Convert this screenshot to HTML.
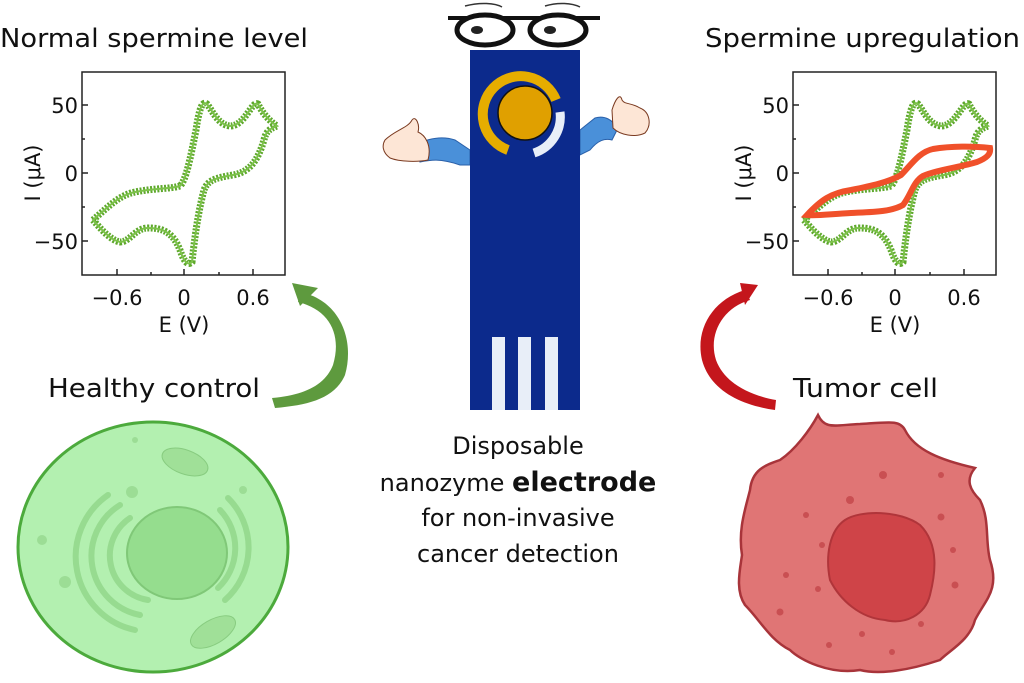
<!DOCTYPE html>
<html><head><meta charset="utf-8"><style>
html,body{margin:0;padding:0;background:#fff}
svg{display:block}
text{font-family:"DejaVu Sans","Liberation Sans",sans-serif;fill:#111}
</style></head><body>
<svg width="1024" height="683" viewBox="0 0 1024 683" xmlns="http://www.w3.org/2000/svg">
<defs>
<path id="cv" d="M93,220 C110,205 120,195 135,192 C155,188 170,189 180,186 C186,180 190,160 196,130 C199,110 202,100 207,104 C212,110 218,125 230,126 C245,126 252,100 258,104 C262,112 268,120 277,126 C272,128 266,130 264,140 C258,160 250,172 233,175 C215,178 208,180 204,190 C200,205 196,225 192,262 C188,266 184,262 180,250 C172,230 160,228 148,228 C135,228 130,242 120,242 C110,240 100,228 93,220 Z"/>
<g id="axes">
  <rect x="82" y="72" width="203" height="203" fill="none" stroke="#222" stroke-width="1.5"/>
  <g stroke="#222" stroke-width="1.5">
    <line x1="82" y1="105" x2="88" y2="105"/><line x1="82" y1="139" x2="85" y2="139"/>
    <line x1="82" y1="173" x2="88" y2="173"/><line x1="82" y1="207" x2="85" y2="207"/>
    <line x1="82" y1="241" x2="88" y2="241"/>
    <line x1="117" y1="275" x2="117" y2="269"/><line x1="151" y1="275" x2="151" y2="272"/>
    <line x1="184" y1="275" x2="184" y2="269"/><line x1="219" y1="275" x2="219" y2="272"/>
    <line x1="253" y1="275" x2="253" y2="269"/>
  </g>
  <g font-size="21" text-anchor="end">
    <text x="78" y="113">50</text><text x="78" y="181">0</text><text x="78" y="249">−50</text>
  </g>
  <g font-size="21" text-anchor="middle">
    <text x="117" y="305">−0.6</text><text x="184" y="305">0</text><text x="253" y="305">0.6</text>
    <text x="184" y="332">E (V)</text>
  </g>
  <text font-size="21" text-anchor="middle" transform="translate(40,173) rotate(-90)">I (μA)</text>
  <use href="#cv" fill="none" stroke="#5ea82c" stroke-width="7" stroke-dasharray="2 1.5"/>
  <use href="#cv" fill="none" stroke="#7cc24a" stroke-width="2"/>
</g>
</defs>

<text x="0" y="47" font-size="26" textLength="308" lengthAdjust="spacingAndGlyphs">Normal spermine level</text>
<text x="705" y="47" font-size="26" textLength="315" lengthAdjust="spacingAndGlyphs">Spermine upregulation</text>

<use href="#axes"/>
<g transform="translate(711,0)">
  <use href="#axes"/>
  <path d="M96,215 C110,200 120,193 140,190 C160,186 178,182 190,175 C200,165 208,152 222,149 C240,146 262,146 279,148 C280,154 276,158 266,162 C250,167 225,170 212,176 C202,182 200,195 192,205 C180,212 160,212 140,213 C120,214 105,216 96,215 Z" fill="none" stroke="#f0502a" stroke-width="6"/>
</g>

<path d="M300,292 C340,300 355,340 345,375 C335,398 310,405 275,408 L272,398 C305,395 325,385 333,365 C342,335 330,310 298,302 Z" fill="#5e9a3e"/>
<path d="M292,283 L318,288 L300,306 Z" fill="#5e9a3e"/>
<path d="M745,290 C712,300 695,330 702,360 C710,390 740,405 775,410 L776,400 C748,395 724,382 716,360 C708,335 722,308 750,300 Z" fill="#c4161c"/>
<path d="M740,283 L758,285 L745,305 Z" fill="#c4161c"/>

<text x="48" y="397" font-size="26" textLength="212" lengthAdjust="spacingAndGlyphs">Healthy control</text>
<text x="793" y="397" font-size="26" textLength="145" lengthAdjust="spacingAndGlyphs">Tumor cell</text>

<g>
  <path d="M470,150 L455,140 C440,135 425,140 415,145 L420,162 C430,160 440,158 460,165 L470,165 Z" fill="#4a90d9" stroke="#2a60a9"/>
  <path d="M580,130 L595,118 C605,115 612,120 618,128 L612,140 C605,138 598,140 590,150 L580,155 Z" fill="#4a90d9" stroke="#2a60a9"/>
  <path d="M385,140 C395,130 408,128 412,120 C416,115 420,125 418,132 C425,135 432,145 428,160 C418,162 400,162 390,158 C382,152 382,145 385,140 Z" fill="#fde6d6" stroke="#7a3a20" stroke-width="1"/>
  <path d="M612,110 C615,100 620,92 622,100 C625,105 630,102 640,108 C650,112 652,125 645,133 C635,138 620,135 613,128 Z" fill="#fde6d6" stroke="#7a3a20" stroke-width="1"/>
  <rect x="470" y="50" width="110" height="360" fill="#0c2a8c"/>
  <rect x="492" y="337" width="13" height="73" fill="#e8eef8"/>
  <rect x="518" y="337" width="13" height="73" fill="#e8eef8"/>
  <rect x="545" y="337" width="13" height="73" fill="#e8eef8"/>
  <path d="M556,100 A38,38 0 1 0 508,150" fill="none" stroke="#e6ad00" stroke-width="10"/>
  <path d="M560,112 A38,38 0 0 1 534,153" fill="none" stroke="#e8eef8" stroke-width="9"/>
  <circle cx="525" cy="113" r="27" fill="#e0a000" stroke="#111" stroke-width="1.5"/>
  <path d="M448,18 L600,18" stroke="#111" stroke-width="4"/>
  <ellipse cx="485" cy="30" rx="28" ry="15" fill="#fff" stroke="#111" stroke-width="5"/>
  <ellipse cx="558" cy="30" rx="28" ry="15" fill="#fff" stroke="#111" stroke-width="5"/>
  <ellipse cx="477" cy="30" rx="6" ry="4" fill="#222"/>
  <ellipse cx="550" cy="30" rx="6" ry="4" fill="#222"/>
  <path d="M465,6 C480,2 495,3 502,7 M545,6 C558,2 572,3 580,7" stroke="#333" fill="none" stroke-width="1.5"/>
</g>

<g font-size="24" text-anchor="middle">
  <text x="518" y="454">Disposable</text>
  <text x="518" y="491">nanozyme <tspan font-weight="bold" font-size="27">electrode</tspan></text>
  <text x="518" y="526">for non-invasive</text>
  <text x="518" y="562">cancer detection</text>
</g>

<g>
  <ellipse cx="153" cy="547" rx="135" ry="125" fill="#b3f0b0" stroke="#4caa3c" stroke-width="3"/>
  <g fill="none" stroke="#97db90" stroke-width="6" stroke-linecap="round">
    <path d="M108,495 A75,75 0 0 0 135,630"/>
    <path d="M120,505 A60,60 0 0 0 140,615"/>
    <path d="M130,518 A45,45 0 0 0 148,600"/>
    <path d="M228,498 A70,70 0 0 1 225,600"/>
    <path d="M220,510 A55,55 0 0 1 218,588"/>
  </g>
  <ellipse cx="177" cy="553" rx="50" ry="46" fill="#95dd8e" stroke="#80c878" stroke-width="2"/>
  <ellipse cx="185" cy="462" rx="24" ry="12" transform="rotate(20 185 462)" fill="#a0e098" stroke="#88cc80"/>
  <ellipse cx="213" cy="632" rx="25" ry="12" transform="rotate(-30 213 632)" fill="#a0e098" stroke="#88cc80"/>
  <g fill="#9cdd95"><circle cx="42" cy="540" r="5"/><circle cx="65" cy="582" r="6"/><circle cx="132" cy="492" r="6"/><circle cx="243" cy="490" r="4"/><circle cx="135" cy="440" r="3"/></g>
</g>

<g>
  <path d="M818,415 C825,430 835,425 860,424 C890,422 900,420 905,430 C915,450 940,460 975,468 C965,480 970,490 980,500 C990,520 985,540 990,560 C1000,590 985,600 975,620 C970,640 950,650 940,660 C910,670 880,675 860,670 C830,675 800,660 790,650 C770,640 760,620 745,605 C735,590 740,570 742,555 C738,530 745,510 750,490 C752,470 765,465 780,460 C795,450 810,430 818,415 Z" fill="#e07575" stroke="#a8343a" stroke-width="2.5"/>
  <path d="M845,520 C860,510 900,510 920,525 C940,545 935,575 930,595 C925,615 905,625 885,620 C860,618 840,600 830,580 C825,555 830,530 845,520 Z" fill="#cf4448" stroke="#b0353a" stroke-width="2"/>
  <g fill="#c94f52"><circle cx="883" cy="475" r="4"/><circle cx="850" cy="500" r="4"/><circle cx="806" cy="515" r="3"/><circle cx="822" cy="545" r="3"/><circle cx="786" cy="575" r="3"/><circle cx="941" cy="517" r="3.5"/><circle cx="953" cy="550" r="3"/><circle cx="955" cy="585" r="3.5"/><circle cx="780" cy="612" r="3.5"/><circle cx="862" cy="634" r="3"/><circle cx="829" cy="645" r="3"/><circle cx="892" cy="652" r="3"/><circle cx="921" cy="624" r="3"/><circle cx="818" cy="589" r="3"/><circle cx="941" cy="475" r="3"/></g>
</g>
</svg>
</body></html>
